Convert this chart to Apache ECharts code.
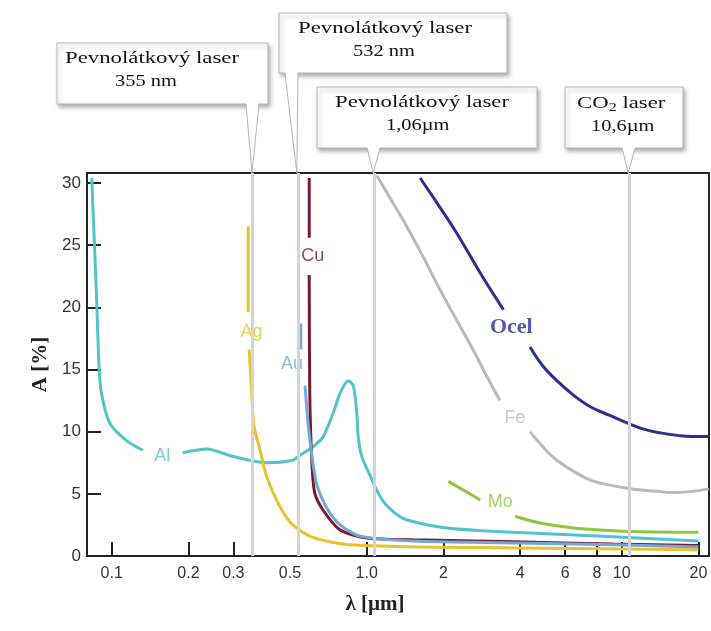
<!DOCTYPE html>
<html>
<head>
<meta charset="utf-8">
<script src="https://cdn.jsdelivr.net/npm/echarts@6/dist/echarts.min.js"></script>
<style>
    html, body { margin: 0; padding: 0; background: #fff; }
    #chart { width: 711px; height: 631px; }
</style>
</head>
<body>
<div id="chart"></div>
<script>
// osa x: vlnova delka v um (log), osa y: absorpce A v %
var lambdaLabels = [0.1, 0.2, 0.3, 0.5, 1, 2, 4, 6, 8, 10, 20];
var lambdaTicks = [0.1, 0.2, 0.3, 1, 2, 4, 6, 8, 10, 20];
var aLabels = [0, 5, 10, 15, 20, 25, 30];

// krivky (null = mezera pro popisek)
var alLambda = [0.0835, 0.0871, 0.0892, 0.0911, 0.0982, 0.114, 0.1323, null, 0.19, 0.236, 0.299, 0.406, 0.513, 0.547, 0.617, 0.675, 0.739, 0.786, 0.847, 0.886, 0.913, 0.926, 0.956, 1.03, 1.095, 1.17, 1.3, 1.44, 2.07, 3.75, 9.27, 20];
var alA      = [30.4, 21.1, 15.2, 13.1, 10.7, 9.3, 8.5, null, 8.3, 8.6, 8.0, 7.5, 7.7, 8.1, 8.8, 9.6, 11.5, 13.1, 14.1, 13.7, 11.7, 9.6, 8.0, 6.5, 5.3, 4.3, 3.4, 2.9, 2.25, 1.9, 1.55, 1.2];

var agLambda = [0.343, 0.343, null, 0.346, 0.352, 0.361, 0.381, 0.405, 0.456, 0.513, 0.615, 0.86, 2.07, 20];
var agA      = [26.5, 19.6, null, 16.6, 14.0, 10.5, 8.6, 6.4, 4.0, 2.5, 1.5, 0.9, 0.7, 0.5];

var cuLambda = [0.595, 0.595, null, 0.595, 0.598, 0.609, 0.625, 0.674, 0.786, 1.003, 1.52, 3.75, 9.27, 20];
var cuA      = [30.4, 25.6, null, 22.6, 13.1, 7.7, 5.1, 3.7, 2.1, 1.45, 1.3, 1.15, 0.96, 0.85];

var auLambda = [0.551, 0.551, null, 0.573, 0.59, 0.615, 0.64, 0.70, 0.787, 0.94, 1.52, 3.75, 9.27, 20];
var auA      = [18.7, 16.6, null, 13.7, 10.5, 7.5, 5.6, 3.8, 2.5, 1.6, 1.2, 1.05, 0.9, 0.72];

var feLambda = [1.095, 1.25, 1.436, 1.68, 1.94, 2.25, 2.61, 2.95, 3.33, null, 4.37, 4.9, 5.57, 6.5, 7.53, 9.0, 10.5, 12.0, 13.8, 15.9, 19.0, 22];
var feA      = [30.6, 28.6, 26.5, 23.9, 21.4, 19.0, 16.6, 14.5, 12.5, null, 10.0, 8.8, 7.7, 6.8, 6.1, 5.7, 5.45, 5.3, 5.2, 5.1, 5.2, 5.4];

var ocelLambda = [1.62, 1.9, 2.25, 2.8, 3.44, null, 4.37, 4.9, 5.57, 6.5, 7.53, 9.0, 10.5, 12.2, 14.2, 16.5, 18.6, 22];
var ocelA      = [30.4, 28.3, 26.0, 22.7, 19.8, null, 16.8, 15.3, 14.1, 12.9, 12.0, 11.3, 10.7, 10.2, 9.9, 9.7, 9.6, 9.6];

var moLambda = [2.09, 2.79, null, 3.82, 4.79, 6.46, 10.1, 20];
var moA      = [6.0, 4.5, null, 3.2, 2.65, 2.25, 2.0, 1.9];

// popisky krivek
var tagNames  = ['Al', 'Ag', 'Au', 'Cu', 'Fe', 'Mo', 'Ocel'];
var tagLambda = [0.158, 0.353, 0.509, 0.614, 3.82, 3.34, 3.69];
var tagA      = [8.0, 18.0, 15.4, 24.1, 11.1, 4.3, 18.4];

// lasery
var laserLambda = [0.355, 0.532, 1.06, 10.6];
var laserLine1 = ['Pevnolátkový laser', 'Pevnolátkový laser', 'Pevnolátkový laser', '{n|CO}{s|2}{n| laser}'];
var laserLine2 = ['355 nm', '532 nm', '1,06µm', '10,6µm'];

var colors = {
    Al: '#52c3cb', Ag: '#e8c22c', Au: '#73a7d8', Cu: '#7a1b2d',
    Fe: '#b9b9b9', Ocel: '#2c2f8c', Mo: '#8dc640'
};

// rozlozeni bublin (px)
var boxes = [
    {left: 57, top: 43, width: 211, height: 61, x1: 65, x2: 115, y1: 59, y2: 82},
    {left: 279, top: 13, width: 228, height: 60, x1: 298, x2: 353, y1: 29, y2: 52},
    {left: 317, top: 87, width: 220, height: 61, x1: 335, x2: 386, y1: 103, y2: 126},
    {left: 565, top: 87, width: 118, height: 61, x1: 577, x2: 591, y1: 104, y2: 127}
];

var lg = function (v) { return Math.log(v) / Math.LN10; };

function pts(lx, ly) {
    return lx.map(function (l, i) {
        if (l === null) return ['-', '-'];
        return [lg(l), ly[i]];
    });
}

function curve(name, lx, ly, smooth) {
    return {
        name: name,
        type: 'line',
        data: pts(lx, ly),
        showSymbol: false,
        symbol: 'none',
        smooth: smooth,
        connectNulls: false,
        z: 3,
        lineStyle: {color: colors[name], width: 3},
        itemStyle: {color: colors[name]}
    };
}

var chart = echarts.init(document.getElementById('chart'));

var option = {
    animation: false,
    backgroundColor: '#fff',
    grid: {
        left: 87, right: 2, top: 173, bottom: 75,
        show: true, borderColor: '#222', borderWidth: 2
    },
    xAxis: {
        type: 'value',
        min: lg(0.08),
        max: lg(22),
        name: 'λ [µm]',
        nameLocation: 'middle',
        nameGap: 38,
        nameTextStyle: {
            fontFamily: 'Liberation Serif', fontWeight: 'bold', fontSize: 21, color: '#222',
            padding: [0, 46, 0, 0]
        },
        splitLine: {show: false},
        axisLine: {onZero: false, lineStyle: {color: '#222', width: 2}},
        axisTick: {
            inside: true, length: 14,
            lineStyle: {color: '#222', width: 2},
            customValues: lambdaTicks.map(lg)
        },
        axisLabel: {
            customValues: lambdaLabels.map(lg),
            margin: 10,
            fontFamily: 'Liberation Sans', fontSize: 16, color: '#333',
            formatter: function (v) {
                var l = Math.pow(10, v);
                if (l < 0.95) return (Math.round(l * 10) / 10).toString();
                if (Math.abs(l - 1) < 0.01) return '1.0';
                return String(Math.round(l));
            }
        }
    },
    yAxis: {
        type: 'value',
        min: 0,
        max: 30.8,
        name: 'A [%]',
        nameLocation: 'middle',
        nameGap: 36,
        nameTextStyle: {fontFamily: 'Liberation Serif', fontWeight: 'bold', fontSize: 21, color: '#222'},
        splitLine: {show: false},
        axisLine: {onZero: false, lineStyle: {color: '#222', width: 2}},
        axisTick: {
            inside: true, length: 14,
            lineStyle: {color: '#222', width: 2},
            customValues: aLabels
        },
        axisLabel: {
            customValues: aLabels,
            margin: 6,
            fontFamily: 'Liberation Sans', fontSize: 17, color: '#333'
        }
    },
    series: [
        {
            name: 'lasery',
            type: 'line',
            data: [],
            z: 1,
            silent: true,
            markLine: {
                silent: true,
                symbol: ['none', 'none'],
                label: {show: false},
                lineStyle: {color: '#d4d4d4', width: 3, type: 'solid'},
                data: laserLambda.map(function (l) { return {xAxis: lg(l)}; })
            }
        },
        curve('Fe', feLambda, feA, 0.4),
        curve('Ocel', ocelLambda, ocelA, 0.4),
        curve('Mo', moLambda, moA, 0.4),
        curve('Al', alLambda, alA, 0.25),
        curve('Ag', agLambda, agA, 0.25),
        curve('Cu', cuLambda, cuA, 0.25),
        curve('Au', auLambda, auA, 0.25),
        {
            name: 'popisky',
            type: 'scatter',
            symbolSize: 0,
            silent: true,
            z: 4,
            data: tagNames.map(function (n, i) {
                var ocel = n === 'Ocel';
                return {
                    value: [lg(tagLambda[i]), tagA[i]],
                    label: {
                        show: true,
                        position: 'inside',
                        formatter: n,
                        color: colors[n],
                        fontFamily: ocel ? 'Liberation Serif' : 'Liberation Sans',
                        fontWeight: ocel ? 'bold' : 'normal',
                        fontSize: ocel ? 22 : 18
                    }
                };
            })
        }
    ]
};

chart.setOption(option);

// bubliny s popisem laseru, spicka na pozici vlnove delky
var topPx = chart.convertToPixel({yAxisIndex: 0}, 30.8);
var graphics = [];
boxes.forEach(function (b, i) {
    var tipX = chart.convertToPixel({xAxisIndex: 0}, lg(laserLambda[i]));
    var baseX = Math.min(tipX, b.left + b.width - 14);
    if (i === 1) baseX = b.left + 12;
    var bottom = b.top + b.height;
    graphics.push({
        type: 'rect', z: 10,
        shape: {x: b.left, y: b.top, width: b.width, height: b.height},
        style: {
            fill: '#fff', stroke: '#b4b4b4', lineWidth: 1,
            shadowBlur: 4, shadowOffsetX: 2, shadowOffsetY: 3, shadowColor: 'rgba(0,0,0,0.3)'
        }
    });
    graphics.push({
        type: 'polygon', z: 11,
        shape: {points: [[baseX - 6, bottom - 1], [tipX, topPx], [baseX + 7, bottom - 1]]},
        style: {fill: '#fff'}
    });
    graphics.push({
        type: 'polyline', z: 12,
        shape: {points: [[baseX - 6, bottom], [tipX, topPx], [baseX + 7, bottom]]},
        style: {stroke: '#b4b4b4', lineWidth: 1, fill: null}
    });
    graphics.push({
        type: 'text', z: 13, x: b.x1, y: b.y1, scaleX: 1.34,
        style: {
            text: laserLine1[i],
            fontFamily: 'Liberation Serif', fontSize: 17, fill: '#111',
            verticalAlign: 'middle',
            rich: {
                n: {fontFamily: 'Liberation Serif', fontSize: 17, fill: '#111'},
                s: {fontFamily: 'Liberation Serif', fontSize: 12, fill: '#111', padding: [8, 0, 0, 0]}
            }
        }
    });
    graphics.push({
        type: 'text', z: 13, x: b.x2, y: b.y2, scaleX: 1.2,
        style: {
            text: laserLine2[i],
            fontFamily: 'Liberation Serif', fontSize: 17, fill: '#111',
            verticalAlign: 'middle'
        }
    });
});
chart.setOption({graphic: graphics});
</script>
</body>
</html>
